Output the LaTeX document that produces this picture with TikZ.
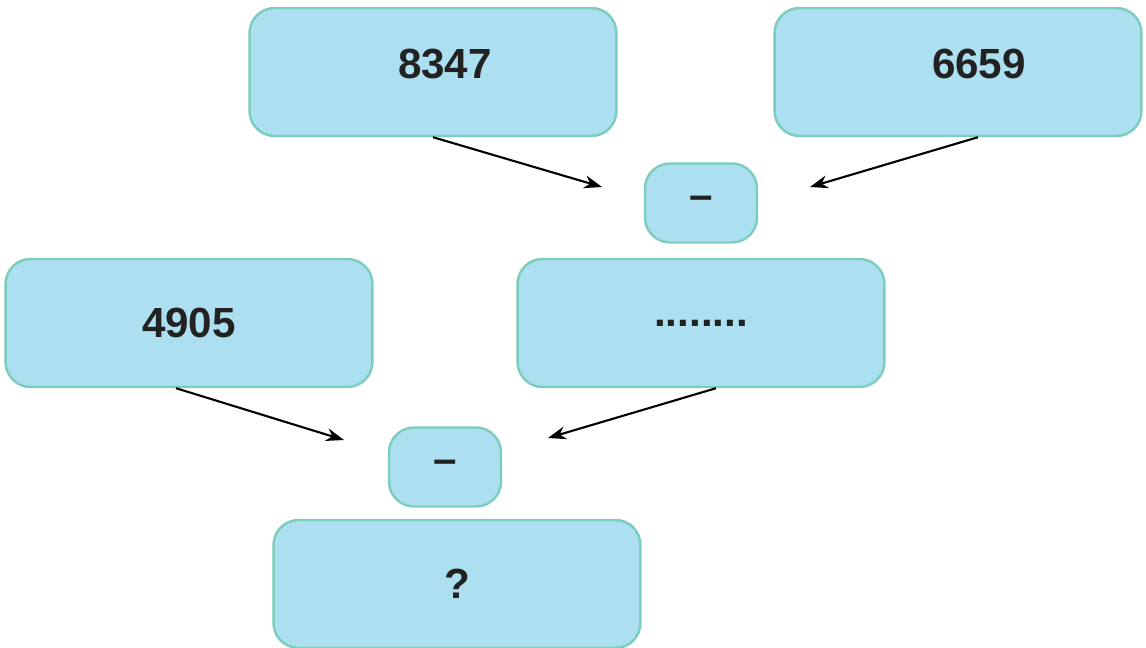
\documentclass[tikz,border=0pt]{standalone}
\usepackage{fontspec}
\setmainfont{Liberation Sans}
\definecolor{BoxFill}{HTML}{ACDFEF}
\definecolor{BoxLine}{HTML}{7DCDBE}
\definecolor{Ink}{HTML}{222222}
\usetikzlibrary{positioning,arrows.meta}

\begin{document}
\begin{tikzpicture}[x=0.02cm, y=-0.02cm,
      b/.style={rectangle, rounded corners=0.5cm, draw=BoxLine, fill=BoxFill,
        line width=1.4pt, minimum width=7.34cm, minimum height=2.56cm,
        font=\bfseries\fontsize{24}{28}\selectfont, text=Ink, align=center},
      op/.style={b, minimum width=2.24cm, minimum height=1.58cm},
      ar/.style={-{Stealth[length=0.36cm, width=0.26cm]}, line width=1.2pt}]
      \useasboundingbox (0,0) rectangle (1146,648);
      \node[b] (top1) at (433,72) {\hspace*{0.48cm}\raisebox{0.32cm}{8347}};
      \node[b] (top2) at (958,72) {\hspace*{0.84cm}\raisebox{0.32cm}{6659}};
      \node[op] (sub1) at (701,203) {–};
      \node[b] (left) at (189,323) {4905};
      \node[b] (mid) at (701,323) {........};
      \node[op] (sub2) at (445,467) {–};
      \node[b] (res) at (457,584) {?};
      \coordinate (in1) at (602,187);
      \coordinate (in2) at (810,187);
      \coordinate (in3) at (344,440);
      \coordinate (in4) at (548,438);
      \draw[ar] (top1.south) -- (in1);
      \draw[ar] ([xshift=0.4cm]top2.south) -- (in2);
      \draw[ar] ([xshift=-0.26cm]left.south) -- (in3);
      \draw[ar] ([xshift=0.3cm]mid.south) -- (in4);
    \end{tikzpicture}
\end{document}
